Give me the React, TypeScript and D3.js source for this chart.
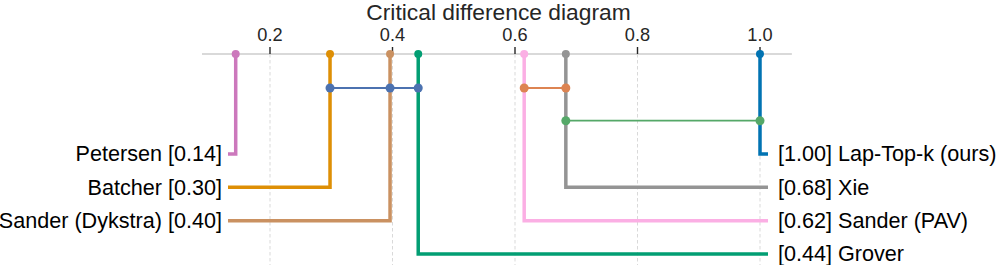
import * as d3 from "d3"

// methods and mean scores
const methods = ["Petersen", "Batcher", "Sander (Dykstra)", "Grover", "Sander (PAV)", "Xie", "Lap-Top-k (ours)"]
const scores = [0.144, 0.298, 0.396, 0.442, 0.615, 0.683, 1.0]
const scoreLabels = ["0.14", "0.30", "0.40", "0.44", "0.62", "0.68", "1.00"]
const methodColors = ["#cc78bc", "#de8f05", "#ca9161", "#029e73", "#fbafe4", "#949494", "#0173b2"]
// side of the label (left/right) and row index on that side
const sides = ["left", "left", "left", "right", "right", "right", "right"]
const rows = [0, 1, 2, 3, 2, 1, 0]

// groups that are not significantly different
const cliques = [
  ["Batcher", "Sander (Dykstra)", "Grover"],
  ["Sander (PAV)", "Xie"],
  ["Xie", "Lap-Top-k (ours)"],
]
const cliqueColors = ["#4c72b0", "#dd8452", "#55a868"]
const cliqueRows = [0, 0, 1]

const tickValues = [0.2, 0.4, 0.6, 0.8, 1.0]
const xLimits = [0.089, 1.052]

const width = 997
const height = 265
const axisY = 54
const leftEnd = 228
const rightEnd = 768

export default function App() {
  const x = d3.scaleLinear().domain([0, 1]).range([147.5, 760])
  const rowY = d3.scaleLinear().domain([0, 3]).range([154, 254])
  const cliqueY = d3.scaleLinear().domain([0, 1]).range([88, 120.7])
  const fmt = d3.format(".1f")
  const font = "'Liberation Sans', Arial, sans-serif"

  return (
    <svg
      width={width}
      height={height}
      style={{ position: "absolute", left: 0, top: 0, background: "#fff" }}
      fontFamily={font}
    >
      {/* grid */}
      {tickValues.map((t) => (
        <line
          key={"g" + t}
          x1={x(t)}
          x2={x(t)}
          y1={axisY}
          y2={height}
          stroke="#d9d9d9"
          strokeWidth={1}
          strokeDasharray="3.5,2.5"
        />
      ))}
      {/* axis */}
      <line x1={x(xLimits[0])} x2={x(xLimits[1])} y1={axisY} y2={axisY} stroke="#cccccc" strokeWidth={1.3} />
      {tickValues.map((t) => (
        <g key={"t" + t}>
          <line x1={x(t)} x2={x(t)} y1={axisY - 7} y2={axisY} stroke="#262626" strokeWidth={1.4} />
          <text x={x(t)} y={41.3} textAnchor="middle" fontSize={18.2} fill="#262626">
            {fmt(t)}
          </text>
        </g>
      ))}

      {/* method lines */}
      {methods.map((m, i) => {
        const y = rowY(rows[i])
        const end = sides[i] === "left" ? leftEnd : rightEnd
        return (
          <path
            key={"m" + m}
            d={`M${x(scores[i])},${axisY}V${y}H${end}`}
            fill="none"
            stroke={methodColors[i]}
            strokeWidth={3.5}
            strokeLinejoin="miter"
          />
        )
      })}
      {methods.map((m, i) => (
        <circle key={"d" + m} cx={x(scores[i])} cy={axisY} r={4} fill={methodColors[i]} />
      ))}

      {/* cliques */}
      {cliques.map((c, ci) => {
        const xs = c.map((m) => x(scores[methods.indexOf(m)]))
        const y = cliqueY(cliqueRows[ci])
        return (
          <g key={"c" + ci}>
            <line x1={d3.min(xs)} x2={d3.max(xs)} y1={y} y2={y} stroke={cliqueColors[ci]} strokeWidth={1.8} />
            {xs.map((cx, j) => (
              <circle key={j} cx={cx} cy={y} r={4.5} fill={cliqueColors[ci]} />
            ))}
          </g>
        )
      })}

      {/* labels */}
      {methods.map((m, i) => {
        const y = rowY(rows[i])
        const left = sides[i] === "left"
        return (
          <text
            key={"l" + m}
            x={left ? leftEnd - 6 : rightEnd + 10}
            y={y}
            dy="0.34em"
            textAnchor={left ? "end" : "start"}
            fontSize={21.6}
            fill="#000"
          >
            {left ? `${m} [${scoreLabels[i]}]` : `[${scoreLabels[i]}] ${m}`}
          </text>
        )
      })}

      <text x={width / 2} y={20.2} textAnchor="middle" fontSize={22.8} fill="#262626">
        Critical difference diagram
      </text>
    </svg>
  )
}
